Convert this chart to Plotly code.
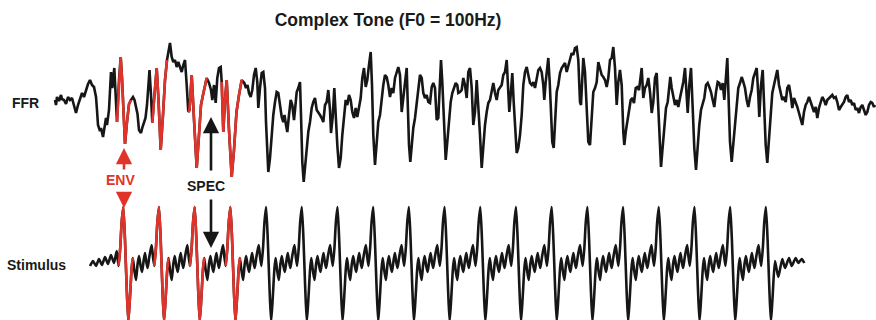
import plotly.graph_objects as go

# ---------------- DATA ----------------
# FFR trace: (sample, amplitude a.u.)
ffr_points = [
    (55, 0), (56, -5), (57, 3), (59, -1), (61, 5), (62, 1), (64, 0), (66, -4), (68, 3), (70, 0),
    (72, 2), (74, -7), (76, -13), (78, -5), (80, 0), (82, 7), (84, 3), (86, 10), (88, 16), (90, 20),
    (92, 15), (94, 13), (96, 3), (97, -10), (98, -25), (100, -31), (101, -28), (103, -37), (104, -30),
    (106, -18), (107, -25), (109, -10), (111, 28), (112.3, 12), (114.3, 32), (116, -12), (117, -22),
    (119, 20), (120.7, 43), (122, 22), (123.5, -15), (125, -44), (127, -22), (129, -4), (131, 0),
    (133, 3), (134.5, 0), (136, -6), (137.5, -14), (139, -30), (141, -33), (142.5, -27), (144, -22),
    (145.5, -18), (147, -5), (148.5, 25), (149.5, 30), (151, 5), (152.3, -23), (154, 0), (156.7, 32),
    (158.5, 0), (160.7, -50), (163, -15), (165, 20), (167, 40), (168.3, 47), (170, 57), (171.7, 43),
    (173.3, 38), (175, 40), (176.7, 33), (178.3, 38), (180, 32), (181.7, 28), (183.3, 35), (185, 40),
    (186.7, 15), (188.3, -12), (189.5, -10), (191.7, 25), (194, -20), (196.7, -68), (199, -35),
    (201, -5), (203, 5), (205, 15), (206.7, 22), (209, 17), (211, 10), (212.3, 0), (214, 15),
    (215.7, -3), (217.3, 22), (219, 32), (220.7, 33), (221.7, 18), (223.3, -32), (225, 0), (226.7, 20),
    (229, -30), (231.7, -77), (234, -50), (236.5, -12), (239, 5), (241.7, 20), (244.3, 17), (246, 12),
    (247.5, 15), (249, 7), (250.7, 3), (252.3, 10), (254, 25), (255.7, 32), (257.3, 18), (258.3, -8),
    (260, 12), (261.7, 27), (263.3, 28), (265, 12), (266, -22), (267.3, -62), (268.3, -72), (270, -58),
    (271.7, -35), (273.3, -15), (275, -2), (276.7, 8), (278.3, 7), (280, -5), (281.7, -17), (283.3, -22),
    (284.5, -15), (286, -25), (287.3, -32), (289, -15), (290.7, 0), (292.3, -5), (294, -20), (295, -10),
    (296.7, 8), (298.3, 12), (300, 18), (301, -15), (302.3, -62), (303.7, -82), (305, -68), (306.7, -45),
    (308.3, -32), (310, -22), (311.7, -8), (313.3, -2), (315, 2), (316.7, -10), (318.3, -12), (320, -15),
    (321.7, -18), (323.3, -22), (325, -5), (326.7, -2), (328.3, 10), (330, -10), (331, -33), (332.7, -17),
    (334.3, 12), (335.7, -17), (337.3, -45), (339, -68), (340.7, -58), (342.3, -35), (344, -15),
    (345.7, 0), (347.3, -5), (349, 5), (350.7, 0), (352.3, -12), (354, -18), (355.7, -8), (357.3, -17),
    (359, -7), (360.7, 2), (362.3, 22), (364, 32), (365.7, 13), (367.3, 20), (369, 35), (370.7, 48),
    (372, 15), (373.3, -35), (375, -65), (376.7, -45), (378.3, -22), (380, -15), (381.7, 2), (383.3, 15),
    (385, 25), (386.7, 23), (388.3, 15), (390, 3), (391.7, 12), (393.3, 7), (395, 22), (396.7, 28),
    (398.3, 33), (400, 25), (401.7, -12), (403.3, 2), (405, 18), (406.7, 32), (407.7, -2), (409, -45),
    (410.3, -62), (411.7, -45), (413.3, -28), (415, -18), (416.7, -2), (418.3, 8), (420, 25), (421.7, 22),
    (423.3, 7), (425, 2), (426.7, 5), (428.3, -2), (430, -3), (431.7, 13), (433.3, 17), (435, 12),
    (436.7, -20), (438.3, -18), (440, 18), (441, 40), (442.3, 18), (444, -28), (445.7, -60), (447.3, -42),
    (449, -18), (450.7, -2), (452.3, 7), (454, 12), (455.7, 17), (457.3, 15), (458.3, 7), (460, 8),
    (461.7, 10), (463.3, 22), (465, 15), (466.7, 2), (468.3, 28), (470, 32), (471.7, 12), (473.3, -25),
    (475, -12), (476.7, 20), (478.3, -2), (480, -35), (481.7, -68), (483.3, -45), (485, -25), (486.7, -12),
    (488.3, -3), (490, 0), (491.7, 10), (493.3, 17), (495, 7), (496.7, 0), (498.3, 10), (500, 13),
    (501.7, 15), (503.3, 25), (505, 28), (506.7, 40), (508.3, 15), (509.3, -12), (510.7, 5), (512.3, 27),
    (513.7, -2), (515, -28), (516.7, -53), (518.3, -48), (520, -35), (521.7, -15), (523.3, 15), (525, 28),
    (526.7, 33), (528.3, 25), (530, 17), (531.7, 15), (533.3, 18), (535, 12), (536.7, 22), (538.3, 30),
    (540, 32), (541.7, 28), (543.3, 15), (544.3, 0), (545.7, 18), (547.3, 33), (548.3, 42), (549.7, 18),
    (551, -18), (552.3, -42), (553.7, -48), (555, -18), (556.7, 8), (558.3, 15), (560, 27), (561.7, 32),
    (563.3, 35), (565, 37), (566.7, 28), (568.3, 35), (570, 42), (571.7, 47), (573.3, 45), (575, 52),
    (576.7, 53), (578.3, 40), (580, -2), (581, -5), (582.3, 22), (583.3, 42), (585, 28), (586.7, -5),
    (588.3, -42), (590, -45), (591.7, -22), (593.3, 8), (595, 12), (596.7, 18), (598.3, 38), (600, 32),
    (601.7, 25), (603.3, 23), (605, 20), (606.7, 13), (608.3, 22), (610, 40), (611.7, 42), (613.3, 53),
    (615, 32), (616.7, -5), (618.3, 18), (620, 30), (621.7, 15), (623.3, -32), (624.3, -45), (625.7, -32),
    (627.3, -23), (629, -12), (630.7, 0), (632.3, 2), (634, -3), (635.7, 12), (637.3, 13), (639, 10),
    (640.7, 22), (641.7, 32), (643.3, 2), (645, 12), (646.7, 15), (648.3, 22), (650, 8), (651.7, -13),
    (653.3, -2), (655, 22), (656.7, 27), (658.3, -2), (660, -45), (661, -67), (662.7, -45), (664.3, -22),
    (666, -8), (667.7, -2), (669.3, 13), (670.3, 23), (671.7, 12), (673.3, 2), (675, -5), (676.7, 0),
    (678.3, -7), (680, 2), (681.7, 10), (683.3, 18), (685, 32), (686.7, 8), (687.7, -13), (689.3, 15),
    (691, 32), (692.7, -8), (694.3, -48), (696, -70), (697.7, -45), (699.3, -25), (701, -10), (702.7, -2),
    (704.3, 2), (706, 15), (707.7, 17), (709.3, 13), (711, 8), (712.7, 0), (714.3, -7), (716, 8),
    (717.7, 18), (719.3, 17), (721, 10), (722.7, 17), (724.3, 0), (727.3, 42), (728.3, 5), (730, -42),
    (731.7, -62), (733.3, -42), (735, -22), (736.7, -2), (738.3, 12), (740, 17), (741.7, 23), (743.3, 18),
    (745, 12), (746.7, 0), (748.3, -7), (750, 3), (751.7, 10), (753.3, 22), (755, 27), (756.7, 32),
    (758.3, 5), (759.3, -17), (761, 15), (762.7, 30), (764, -2), (765.7, -45), (767.3, -63), (769, -42),
    (770.7, -15), (772.3, 7), (774, 15), (775.7, 22), (777.3, 30), (779, 15), (780.7, 7), (782.3, 0),
    (784, 3), (785.7, -2), (787.3, 12), (789, 15), (790.7, 5), (792.3, -8), (794, 2), (795.7, -2),
    (797.3, -7), (799, -13), (800.7, -20), (802.3, -25), (804, -12), (805.7, -5), (807.3, -2), (809, 3),
    (810.7, -2), (812.3, -8), (814, -12), (815.7, -7), (817.3, -18), (819, -8), (820.7, -2), (822.3, 3),
    (824, 0), (825.7, -5), (827.3, 0), (829, 2), (830.7, 3), (832.3, 5), (834, 2), (835.7, 3),
    (837.3, -2), (839, -10), (840.7, -7), (842.3, -5), (844, -2), (845.7, 3), (847.3, 5), (849, -2),
    (850.7, 0), (852.3, -5), (854, -3), (855.7, -10), (857.3, -8), (859, -13), (860.7, -7), (862.3, -5),
    (864, -10), (865.7, -15), (867.3, -12), (869, -5), (870.7, -2), (872.3, -3), (874, -7), (875, -5),
]
# FFR sample windows highlighted in red (envelope-following cycles)
ffr_env_windows = [(117, 131), (152.3, 167), (188.3, 206.7), (221.7, 241.7)]

# Stimulus: one period of the complex tone (offset from the main peak, amplitude)
stim_cycle_offset = [0, 1.7, 3.3, 5, 6.7, 8.3, 9.5, 11, 12.7, 14.3, 15.7, 17.3, 18.7, 20.3,
                     21.7, 23, 24.3, 26, 28.3, 29.7, 31, 32.7, 34]
stim_cycle_amp = [58, 25, -20, -57, -32, -4, 7, -5, -15, 1, 9, -1, -7, 4,
                  12, 3, -3, 8, 20, 8, -1, 18, 42]
stim_period = 35.7          # samples per F0 period (10 ms)
stim_first_peak = 123.3
stim_n_peaks = 19
stim_onset_sample = [90, 93, 96, 99, 102, 105, 108, 111, 114, 116.7]
stim_onset_amp = [-1, 4, -1, 6, 0, 8, 1, 10, 2, 14]
stim_tail_sample = [775, 778.3, 782.3, 785, 789, 791.7, 795.7, 798.3, 801.7, 804.3]
stim_tail_amp = [4, -12, 6, -3, 7, -1, 7, 2, 6, 2]
stim_env_cycles = 4
stim_env_window = (-4.8, 9.6)

# ---------------- BUILD ----------------
BLACK = "#161616"
RED = "#E2332A"
FONT = "Arial, Liberation Sans, Helvetica, sans-serif"

ffr_x = [p[0] for p in ffr_points]
ffr_y = [p[1] for p in ffr_points]

stim_x = list(stim_onset_sample)
stim_y = list(stim_onset_amp)
peaks = []
for k in range(-1, stim_n_peaks):
    p = stim_first_peak + k * stim_period
    if k >= 0:
        peaks.append(p)
    for off, a in zip(stim_cycle_offset, stim_cycle_amp):
        if k == -1 and off < 30:
            continue
        if k == stim_n_peaks - 1 and off > 6.8:
            break
        stim_x.append(p + off)
        stim_y.append(a)
stim_x += stim_tail_sample
stim_y += stim_tail_amp

LW = 2.6
fig = go.Figure()
fig.add_trace(go.Scatter(x=ffr_x, y=ffr_y, mode="lines", yaxis="y",
                         line=dict(color=BLACK, width=LW), hoverinfo="skip"))
for a, b in ffr_env_windows:
    xs = [x for x in ffr_x if a - 1e-6 <= x <= b + 1e-6]
    ys = [y for x, y in zip(ffr_x, ffr_y) if a - 1e-6 <= x <= b + 1e-6]
    fig.add_trace(go.Scatter(x=xs, y=ys, mode="lines", yaxis="y",
                             line=dict(color=RED, width=LW), hoverinfo="skip"))

fig.add_trace(go.Scatter(x=stim_x, y=stim_y, mode="lines", yaxis="y2",
                         line=dict(color=BLACK, width=LW, shape="spline", smoothing=0.6),
                         hoverinfo="skip"))
for p in peaks[:stim_env_cycles]:
    lo, hi = p + stim_env_window[0], p + stim_env_window[1]
    xs = [x for x in stim_x if lo <= x <= hi]
    ys = [y for x, y in zip(stim_x, stim_y) if lo <= x <= hi]
    fig.add_trace(go.Scatter(x=xs, y=ys, mode="lines", yaxis="y2",
                             line=dict(color=RED, width=LW, shape="spline", smoothing=0.6),
                             hoverinfo="skip"))

def arrow(x, y, ay, yref, color):
    return dict(x=x, y=y, ax=x, ay=ay, xref="x", yref=yref, axref="x", ayref=yref,
                text="", showarrow=True, arrowhead=2, arrowsize=1.25, arrowwidth=2.6,
                arrowcolor=color, standoff=0, startstandoff=0)

annotations = [
    dict(x=25, y=-3, xref="x", yref="y", text="<b>FFR</b>", showarrow=False,
         font=dict(family=FONT, size=14, color="#1a1a1a")),
    dict(x=36, y=0, xref="x", yref="y2", text="<b>Stimulus</b>", showarrow=False,
         font=dict(family=FONT, size=14, color="#1a1a1a")),
    dict(x=120, y=-80, xref="x", yref="y", text="<b>ENV</b>", showarrow=False,
         font=dict(family=FONT, size=14, color=RED)),
    dict(x=206, y=-86, xref="x", yref="y", text="<b>SPEC</b>", showarrow=False,
         font=dict(family=FONT, size=14, color="#1a1a1a")),
    arrow(124, -48, -71, "y", RED),
    arrow(124, 57, 72, "y2", RED),
    arrow(211, -17, -72, "y", BLACK),
    arrow(211, 17, 67, "y2", BLACK),
]

fig.update_layout(
    width=876, height=320,
    margin=dict(l=0, r=0, t=0, b=0),
    paper_bgcolor="white", plot_bgcolor="white",
    showlegend=False,
    title=dict(text="<b>Complex Tone (F0 = 100Hz)</b>", x=0.443, xanchor="center",
               y=0.937, yanchor="middle", font=dict(family=FONT, size=17.5, color="#1a1a1a")),
    xaxis=dict(range=[0, 876], visible=False, fixedrange=True),
    yaxis=dict(range=[-220, 100], visible=False, fixedrange=True),
    yaxis2=dict(range=[-55, 265], visible=False, overlaying="y", fixedrange=True),
    annotations=annotations,
)

fig.write_html("out.html")
